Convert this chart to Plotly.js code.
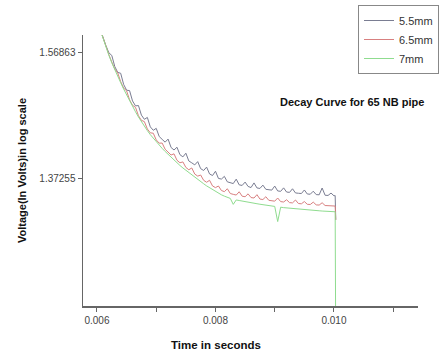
<!DOCTYPE html>
<html>
<head>
<meta charset="utf-8">
<script src="https://cdn.plot.ly/plotly-3.0.1.min.js"></script>
<style>html,body{margin:0;padding:0;background:#fff;}#chart{width:441px;height:354px;}</style>
</head>
<body>
<div id="chart"></div>
<script>
// Time in seconds
var time = [
 0.00600,0.00605,0.00610,0.00615,0.00620,0.00625,0.00630,0.00635,0.00640,0.00645,
 0.00650,0.00655,0.00660,0.00665,0.00670,0.00675,0.00680,0.00685,0.00690,0.00695,
 0.00700,0.00705,0.00710,0.00715,0.00720,0.00725,0.00730,0.00735,0.00740,0.00745,
 0.00750,0.00755,0.00760,0.00765,0.00770,0.00775,0.00780,0.00785,0.00790,0.00795,
 0.00800,0.00805,0.00810,0.00815,0.00820,0.00825,0.00830,0.00835,0.00840,0.00845,
 0.00850,0.00855,0.00860,0.00865,0.00870,0.00875,0.00880,0.00885,0.00890,0.00895,
 0.00900,0.00905,0.00910,0.00915,0.00920,0.00925,0.00930,0.00935,0.00940,0.00945,
 0.00950,0.00955,0.00960,0.00965,0.00970,0.00975,0.00980,0.00985,0.00990,0.00995,
 0.01000,0.01002,0.01003
];
// 5.5mm
var v55 = [
 1.6200,1.6060,1.5928,1.5803,1.5690,1.5647,1.5476,1.5383,1.5370,1.5196,
 1.5106,1.5100,1.4939,1.4862,1.4867,1.4718,1.4653,1.4682,1.4535,1.4482,
 1.4512,1.4385,1.4340,1.4297,1.4345,1.4214,1.4175,1.4218,1.4102,1.4068,
 1.4125,1.4004,1.3975,1.3943,1.3994,1.3884,1.3856,1.3908,1.3802,1.3777,
 1.3844,1.3732,1.3722,1.3764,1.3679,1.3665,1.3652,1.3721,1.3632,1.3623,
 1.3675,1.3607,1.3590,1.3662,1.3584,1.3576,1.3628,1.3562,1.3556,1.3550,
 1.3613,1.3537,1.3531,1.3585,1.3520,1.3515,1.3571,1.3506,1.3501,1.3497,
 1.3552,1.3489,1.3486,1.3533,1.3480,1.3477,1.3583,1.3470,1.3467,1.3504,
 1.3461,1.3465,1.3088
];
// 6.5mm
var v65 = [
 1.6200,1.6060,1.5923,1.5787,1.5661,1.5544,1.5436,1.5376,1.5239,1.5140,
 1.5095,1.4956,1.4871,1.4839,1.4709,1.4637,1.4617,1.4502,1.4442,1.4436,
 1.4332,1.4281,1.4283,1.4187,1.4141,1.4097,1.4115,1.4015,1.3976,1.3989,
 1.3903,1.3867,1.3895,1.3800,1.3768,1.3785,1.3703,1.3672,1.3703,1.3615,
 1.3589,1.3614,1.3544,1.3526,1.3571,1.3497,1.3484,1.3473,1.3524,1.3455,
 1.3447,1.3492,1.3434,1.3427,1.3479,1.3411,1.3403,1.3447,1.3391,1.3385,
 1.3378,1.3427,1.3371,1.3365,1.3400,1.3355,1.3351,1.3396,1.3341,1.3337,
 1.3372,1.3329,1.3326,1.3363,1.3320,1.3317,1.3353,1.3310,1.3307,1.3304,
 1.3301,1.3302,1.3088
];
// 7mm
var v7 = [
 1.6195,1.6052,1.5916,1.5780,1.5652,1.5533,1.5423,1.5321,1.5223,1.5124,
 1.5030,1.4939,1.4853,1.4770,1.4689,1.4614,1.4544,1.4477,1.4414,1.4356,
 1.4301,1.4250,1.4200,1.4152,1.4106,1.4060,1.4016,1.3975,1.3934,1.3895,
 1.3858,1.3820,1.3787,1.3750,1.3716,1.3682,1.3649,1.3616,1.3586,1.3556,
 1.3528,1.3502,1.3477,1.3456,1.3438,1.3421,1.3328,1.3397,1.3388,1.3378,
 1.3370,1.3362,1.3354,1.3346,1.3338,1.3330,1.3322,1.3316,1.3309,1.3303,
 1.3296,1.3060,1.3284,1.3277,1.3272,1.3267,1.3263,1.3258,1.3252,1.3248,
 1.3243,1.3240,1.3237,1.3234,1.3231,1.3228,1.3224,1.3221,1.3218,1.3215,
 1.3212,1.3213,1.1000
];
var seriesNames = ['5.5mm','6.5mm','7mm'];
var xTickVals = [0.006,0.007,0.008,0.009,0.010,0.011];
var xTickText = ['0.006','','0.008','','0.010',''];
var yTickVals = [1.37255,1.56863];
var yTickText = ['1.37255','1.56863'];

var font = 'Arial, "Liberation Sans", sans-serif';
var traces = [
 {x: time, y: v55, name: seriesNames[0], mode: 'lines', line: {color: '#7a7d92', width: 1}},
 {x: time, y: v65, name: seriesNames[1], mode: 'lines', line: {color: '#d88080', width: 1}},
 {x: time, y: v7,  name: seriesNames[2], mode: 'lines', line: {color: '#8fdc8f', width: 1}}
];
var layout = {
 width: 441, height: 354,
 margin: {l: 83, r: 23, t: 35, b: 48, autoexpand: false},
 paper_bgcolor: '#fff', plot_bgcolor: '#fff',
 font: {family: font, size: 10, color: '#444'},
 showlegend: true,
 legend: {xref: 'container', yref: 'container', x: 358/441, y: 1 - 5/354,
   xanchor: 'left', yanchor: 'top',
   bgcolor: '#fff', bordercolor: '#888', borderwidth: 1,
   font: {family: font, size: 11, color: '#333'}},
 xaxis: {range: [0.005764, 0.011418], showgrid: false, zeroline: false,
   showline: true, linecolor: '#666', linewidth: 1.5,
   tickmode: 'array', tickvals: xTickVals, ticktext: xTickText,
   ticks: 'outside', ticklen: 4, tickcolor: '#666', tickwidth: 1,
   tickfont: {size: 10, color: '#444'}},
 yaxis: {range: [1.1745, 1.5966], showgrid: false, zeroline: false,
   showline: true, linecolor: '#666', linewidth: 1.5,
   tickmode: 'array', tickvals: yTickVals, ticktext: yTickText,
   ticks: 'outside', ticklen: 4, tickcolor: '#666', tickwidth: 1,
   tickfont: {size: 10, color: '#444'},
   title: {text: '<b>Voltage(In Volts)in log scale</b>', standoff: 10,
     font: {family: font, size: 11, color: '#111'}}},
 annotations: [
  {text: '<b>Time in seconds</b>', xref: 'paper', yref: 'paper',
   x: (216-83)/335, y: -39/271, xanchor: 'center', yanchor: 'middle', showarrow: false,
   font: {family: font, size: 11.5, color: '#111'}},
  {text: '<b>Decay Curve for 65 NB pipe</b>', xref: 'paper', yref: 'paper',
   x: (278-83)/335, y: (306-102)/271, xanchor: 'left', yanchor: 'middle', showarrow: false,
   font: {family: font, size: 11, color: '#111'}}
 ]
};
Plotly.newPlot('chart', traces, layout, {displayModeBar: false, staticPlot: true});
</script>
</body>
</html>
